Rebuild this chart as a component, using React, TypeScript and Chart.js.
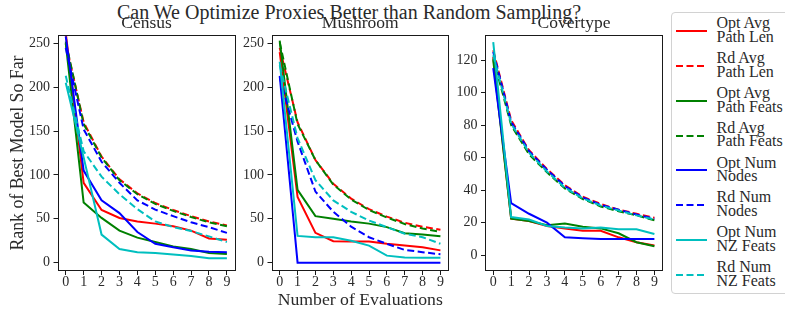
import React, { useEffect, useRef } from "react";
import { Chart, registerables } from "chart.js";

Chart.register(...registerables);

// ---------- data ----------
const EVALS = [0, 1, 2, 3, 4, 5, 6, 7, 8, 9];
const X_TICKS = [0, 1, 2, 3, 4, 5, 6, 7, 8, 9];
const Y_TICKS_CM = [0, 50, 100, 150, 200, 250];
const Y_TICKS_COVER = [0, 20, 40, 60, 80, 100, 120];

const SERIES_LABELS = [
  ["Opt Avg", "Path Len"],
  ["Rd Avg", "Path Len"],
  ["Opt Avg", "Path Feats"],
  ["Rd Avg", "Path Feats"],
  ["Opt Num", "Nodes"],
  ["Rd Num", "Nodes"],
  ["Opt Num", "NZ Feats"],
  ["Rd Num", "NZ Feats"],
];

// Census
const CENSUS_OPT_LEN = [262, 91, 60, 51, 47, 44.5, 41.5, 36.5, 27.5, 26];
const CENSUS_RD_LEN = [250, 160, 121, 95, 79, 68, 60, 53, 47, 42.5];
const CENSUS_OPT_FEATS = [250, 68.5, 51, 36.5, 28.5, 23.5, 18.5, 15.5, 11, 10];
const CENSUS_RD_FEATS = [252, 158, 120, 94, 78, 67, 59, 52, 46, 41.5];
const CENSUS_OPT_NODES = [258, 105, 71, 56.5, 35, 21.5, 17.5, 14, 12.5, 12];
const CENSUS_RD_NODES = [245, 152, 115, 91, 71, 60.5, 53, 46, 40.5, 34];
const CENSUS_OPT_NZ = [205, 120, 32, 15.5, 12, 11, 9.2, 7.5, 5, 5];
const CENSUS_RD_NZ = [213, 127, 98, 78, 61, 47, 40.5, 36, 30, 23.5];

// Mushroom
const MUSH_OPT_LEN = [240, 75, 34, 24.5, 24, 24, 21.5, 19.5, 17.5, 14];
const MUSH_RD_LEN = [245, 160, 117, 90, 73, 61, 52.5, 45.5, 41, 37.5];
const MUSH_OPT_FEATS = [253, 83, 53, 50, 47, 44.5, 40.5, 33.5, 32, 30];
const MUSH_RD_FEATS = [251, 158, 117, 89, 72, 60, 51.5, 44, 39, 35];
const MUSH_OPT_NODES = [213, 0, 0, 0, 0, 0, 0, 0, 0, 0];
const MUSH_RD_NODES = [211, 138, 81, 58, 41, 29, 21.5, 14.5, 12, 9.5];
const MUSH_OPT_NZ = [229, 30.5, 29, 29, 25, 19.5, 8, 6, 5.5, 5.5];
const MUSH_RD_NZ = [225, 142, 94, 71, 58, 48, 40.5, 33, 29, 21.5];

// Covertype
const COVER_OPT_LEN = [122, 22.5, 21, 18, 16.5, 15, 15, 11, 8, 6];
const COVER_RD_LEN = [126, 83, 64.5, 53, 43, 36, 31.5, 28, 25.5, 23];
const COVER_OPT_FEATS = [120, 22.5, 21, 18.5, 19.5, 17.5, 16.5, 13.5, 8, 5.5];
const COVER_RD_FEATS = [121, 80, 62, 51, 41, 34.5, 30, 27, 24.5, 21.5];
const COVER_OPT_NODES = [115, 32, 25.5, 20, 11, 10.5, 10, 10, 10, 10];
const COVER_RD_NODES = [125, 82, 64, 52.5, 42.5, 35.5, 31, 28, 25, 22.5];
const COVER_OPT_NZ = [131, 23.5, 22, 18, 17, 16.5, 17, 16, 16, 13];
const COVER_RD_NZ = [123, 81, 63, 51.5, 41.5, 35, 30.5, 27.5, 24.5, 22];

// ---------- styles ----------
const FONT = "'Liberation Serif', 'Times New Roman', serif";
const TEXT_COLOR = "#2a2a2a";
const SERIES_COLORS = ["#ff0000", "#ff0000", "#008000", "#008000", "#0000ff", "#0000ff", "#00bfbf", "#00bfbf"];
const SERIES_DASHED = [false, true, false, true, false, true, false, true];
const DASH = [7, 3.5];

const PANELS = [
  {
    title: "Census",
    series: [CENSUS_OPT_LEN, CENSUS_RD_LEN, CENSUS_OPT_FEATS, CENSUS_RD_FEATS, CENSUS_OPT_NODES, CENSUS_RD_NODES, CENSUS_OPT_NZ, CENSUS_RD_NZ],
    yMin: -9.5, yMax: 259.5, yTicks: Y_TICKS_CM,
    left: 0, width: 240, yAxisWidth: 57.5, padRight: 4.5,
    yTitle: "Rank of Best Model So Far", xTitle: "",
  },
  {
    title: "Mushroom",
    series: [MUSH_OPT_LEN, MUSH_RD_LEN, MUSH_OPT_FEATS, MUSH_RD_FEATS, MUSH_OPT_NODES, MUSH_RD_NODES, MUSH_OPT_NZ, MUSH_RD_NZ],
    yMin: -9.5, yMax: 259.5, yTicks: Y_TICKS_CM,
    left: 240, width: 212, yAxisWidth: 31.5, padRight: 3,
    yTitle: "", xTitle: "Number of Evaluations",
  },
  {
    title: "Covertype",
    series: [COVER_OPT_LEN, COVER_RD_LEN, COVER_OPT_FEATS, COVER_RD_FEATS, COVER_OPT_NODES, COVER_RD_NODES, COVER_OPT_NZ, COVER_RD_NZ],
    yMin: -9.7, yMax: 135.4, yTicks: Y_TICKS_COVER,
    left: 455, width: 212, yAxisWidth: 30, padRight: 4,
    yTitle: "", xTitle: "",
  },
];

const H = 311;
const X_AXIS_HEIGHT = 40;

const framePlugin = {
  id: "frame",
  afterDatasetsDraw(chart: any) {
    const { ctx, chartArea: a } = chart;
    ctx.save();
    ctx.strokeStyle = "#1a1a1a";
    ctx.lineWidth = 1;
    const l = Math.round(a.left) + 0.5;
    const t = Math.round(a.top) + 0.5;
    const r = Math.round(a.right) - 0.5;
    const b = Math.round(a.bottom) - 0.5;
    ctx.strokeRect(l, t, r - l, b - t);
    ctx.restore();
  },
};

function Panel({ panel }: { panel: any }) {
  const ref = useRef<HTMLCanvasElement | null>(null);
  useEffect(() => {
    if (!ref.current) return;
    const datasets = panel.series.map((arr: number[], i: number) => ({
      label: SERIES_LABELS[i].join(" "),
      data: EVALS.map((x, j) => ({ x, y: arr[j] })),
      borderColor: SERIES_COLORS[i],
      backgroundColor: SERIES_COLORS[i],
      borderWidth: 2,
      borderDash: SERIES_DASHED[i] ? DASH : [],
      pointRadius: 0,
      tension: 0,
      fill: false,
      order: 8 - i,
    }));
    const chart = new Chart(ref.current, {
      type: "line",
      data: { datasets },
      plugins: [framePlugin],
      options: {
        animation: false,
        responsive: false,
        maintainAspectRatio: false,
        events: [],
        layout: { padding: { left: 0, right: panel.padRight, top: 0, bottom: 0 } },
        plugins: {
          legend: { display: false },
          tooltip: { enabled: false },
          title: {
            display: true,
            text: panel.title,
            fullSize: false,
            color: TEXT_COLOR,
            font: { family: FONT, size: 17.5, weight: "normal", lineHeight: 1.2 },
            padding: { top: 12.8, bottom: 1.2 },
          },
        },
        scales: {
          x: {
            type: "linear",
            min: -0.46,
            max: 9.48,
            afterBuildTicks: (s: any) => {
              s.ticks = X_TICKS.map((v) => ({ value: v }));
            },
            afterFit: (s: any) => {
              s.height = X_AXIS_HEIGHT;
            },
            grid: { display: true, drawOnChartArea: false, drawTicks: true, tickLength: 4, tickColor: "#1a1a1a", tickWidth: 1 },
            border: { display: false },
            ticks: {
              autoSkip: false,
              maxRotation: 0,
              padding: 0,
              color: TEXT_COLOR,
              font: { family: FONT, size: 14, lineHeight: 1 },
            },
            title: {
              display: !!panel.xTitle,
              text: panel.xTitle,
              color: TEXT_COLOR,
              font: { family: FONT, size: 17.7, lineHeight: 1.2 },
              padding: { top: 0, bottom: 0.5 },
            },
          },
          y: {
            type: "linear",
            min: panel.yMin,
            max: panel.yMax,
            afterBuildTicks: (s: any) => {
              s.ticks = panel.yTicks.map((v: number) => ({ value: v }));
            },
            afterFit: (s: any) => {
              s.width = panel.yAxisWidth;
            },
            grid: { display: true, drawOnChartArea: false, drawTicks: true, tickLength: 4, tickColor: "#1a1a1a", tickWidth: 1 },
            border: { display: false },
            ticks: {
              padding: 3.5,
              color: TEXT_COLOR,
              font: { family: FONT, size: 14, lineHeight: 1.2 },
            },
            title: {
              display: !!panel.yTitle,
              text: panel.yTitle,
              color: TEXT_COLOR,
              font: { family: FONT, size: 17.8, lineHeight: 1.2 },
              padding: { top: 7.8, bottom: 0 },
            },
          },
        },
      } as any,
    });
    return () => chart.destroy();
  }, [panel]);
  return (
    <canvas
      ref={ref}
      width={panel.width}
      height={H}
      style={{ position: "absolute", left: panel.left, top: 0, width: panel.width, height: H }}
    />
  );
}

function LegendLine({ color, dashed }: { color: string; dashed: boolean }) {
  return (
    <svg width={32} height={4} style={{ position: "absolute", left: 4, top: -2 }}>
      <line
        x1={0}
        y1={2}
        x2={31}
        y2={2}
        stroke={color}
        strokeWidth={2}
        strokeDasharray={dashed ? DASH.join(" ") : undefined}
      />
    </svg>
  );
}

function Legend() {
  const top = 11.5;
  return (
    <div
      style={{
        position: "absolute",
        left: 671,
        top,
        width: 130,
        height: 282,
        border: "1px solid #d2d2d2",
        borderRadius: 4,
        background: "#fff",
        boxSizing: "border-box",
      }}
    >
      {SERIES_LABELS.map((lab, i) => {
        const cy = 31 + i * 34.85 - top - 1;
        return (
          <div key={i} style={{ position: "absolute", left: 0, top: cy, width: 130, height: 0 }}>
            <LegendLine color={SERIES_COLORS[i]} dashed={SERIES_DASHED[i]} />
            <div
              style={{
                position: "absolute",
                left: 44.5,
                top: -14.9,
                fontFamily: FONT,
                fontSize: 16,
                lineHeight: "13.7px",
                color: TEXT_COLOR,
                whiteSpace: "nowrap",
              }}
            >
              {lab[0]}
              <br />
              {lab[1]}
            </div>
          </div>
        );
      })}
    </div>
  );
}

export default function App() {
  return (
    <div
      style={{
        position: "fixed",
        left: 0,
        top: 0,
        width: 785,
        height: H,
        overflow: "hidden",
        background: "#fff",
      }}
    >
      <div
        style={{
          position: "absolute",
          left: 0,
          top: 1.5,
          width: 698,
          textAlign: "center",
          fontFamily: FONT,
          fontSize: 20,
          lineHeight: "20px",
          color: TEXT_COLOR,
          whiteSpace: "nowrap",
        }}
      >
        Can We Optimize Proxies Better than Random Sampling?
      </div>
      {PANELS.map((p) => (
        <Panel key={p.title} panel={p} />
      ))}
      <Legend />
    </div>
  );
}
